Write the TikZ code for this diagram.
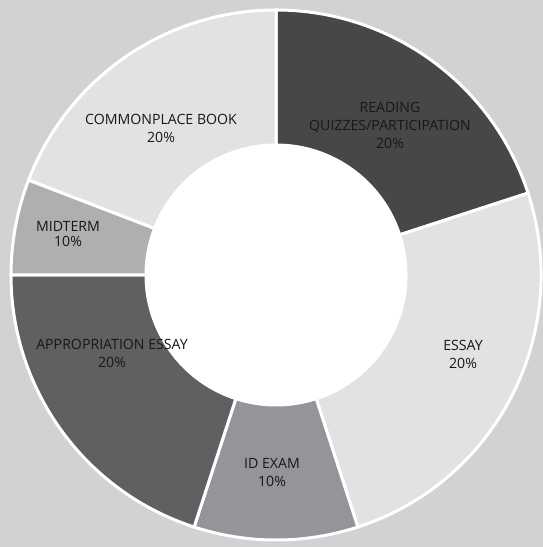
\documentclass[tikz,border=0pt]{standalone}
\usepackage{fontspec}
\setmainfont{Open Sans}
\definecolor{bg}{HTML}{D1D2D4}
\definecolor{cread}{HTML}{474748}
\definecolor{clight}{HTML}{E1E2E4}
\definecolor{cid}{HTML}{939598}
\definecolor{capp}{HTML}{5F6062}
\definecolor{cmid}{HTML}{AEAFB1}
\definecolor{txt}{HTML}{1A1718}
\tikzset{
  seg/.style={draw=white, line width=3bp, line join=miter},
  lbl/.style={font=\fontsize{14.2}{18.5}\selectfont, text=txt, align=center, inner sep=0pt, anchor=base},
}
\newcommand{\mysector}[4]{% color, start, end, name
  \filldraw[seg, fill=#1] (#2:130) -- (#2:265) arc[start angle=#2, end angle=#3, radius=265] -- (#3:130) arc[start angle=#3, end angle=#2, radius=130] -- cycle;
}
\begin{document}
\begin{tikzpicture}[x=1bp,y=1bp]
\fill[bg] (0,0) rectangle (543,547);
\useasboundingbox (0,0) rectangle (543,547);
\begin{scope}[shift={(276,272)}]
  \mysector{cread}{18}{90}{read}
  \mysector{clight}{-72}{18}{essay}
  \mysector{cid}{-108}{-72}{id}
  \mysector{capp}{-180}{-108}{app}
  \mysector{cmid}{159}{180}{mid}
  \mysector{clight}{90}{159}{cpb}
  \fill[white] (0,0) circle[radius=131];
\end{scope}
\node[lbl] (lcpb) at (161,404) {COMMONPLACE BOOK\\20\%};
\node[lbl] (lread) at (390,398) {READING\\QUIZZES/PARTICIPATION\\20\%};
\node[lbl] (lessay) at (463,178) {ESSAY\\20\%};
\node[lbl] (lid) at (272,60) {ID EXAM\\10\%};
\node[lbl] (lapp) at (112,179) {APPROPRIATION ESSAY\\20\%};
\node[lbl, font=\fontsize{14.2}{16}\selectfont] (lmid) at (68,300) {MIDTERM\\10\%};
\end{tikzpicture}
\end{document}
